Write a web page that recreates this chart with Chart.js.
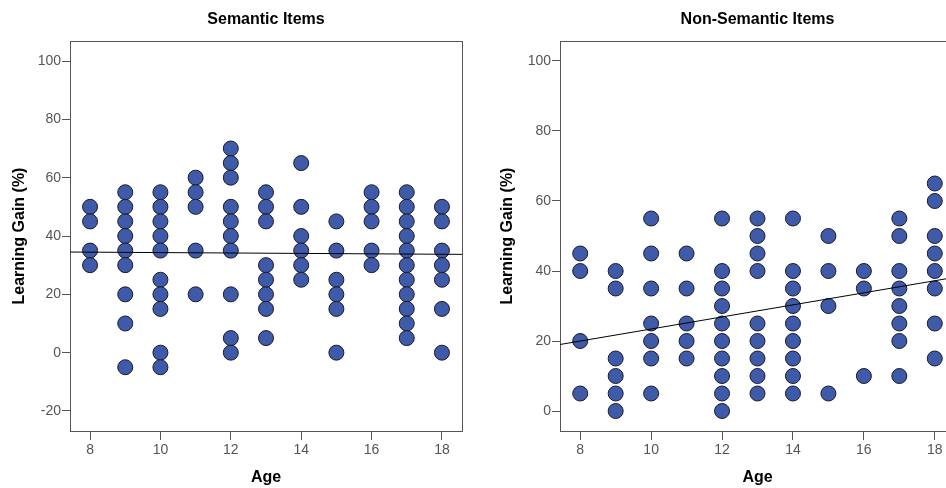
<!DOCTYPE html>
<html><head><meta charset="utf-8">
<script src="https://cdn.jsdelivr.net/npm/chart.js@4.4.1/dist/chart.umd.min.js"></script>
<style>
html,body{margin:0;padding:0;background:#fff;overflow:hidden;width:946px;height:488px;}
#wrap{position:relative;width:946px;height:488px;overflow:hidden;background:#fff;}
.box{position:absolute;top:0;height:488px;}
</style></head><body>
<div id="wrap">
<div class="box" style="left:0;width:475px"><canvas id="c1"></canvas></div>
<div class="box" style="left:475px;width:493px"><canvas id="c2"></canvas></div>
</div>
<script>
const ages = [8, 9, 10, 11, 12, 13, 14, 15, 16, 17, 18];
const semanticGain = [
  [50, 45, 35, 30],
  [55, 50, 45, 40, 35, 30, 20, 10, -5],
  [55, 50, 45, 40, 35, 25, 20, 15, 0, -5],
  [60, 55, 50, 35, 20],
  [70, 65, 60, 50, 45, 40, 35, 20, 5, 0],
  [55, 50, 45, 30, 25, 20, 15, 5],
  [65, 50, 40, 35, 30, 25],
  [45, 35, 25, 20, 15, 0],
  [55, 50, 45, 35, 30],
  [55, 50, 45, 40, 35, 30, 25, 20, 15, 10, 5],
  [50, 45, 35, 30, 25, 15, 0]
];
const nonSemanticGain = [
  [45, 40, 20, 5],
  [40, 35, 15, 10, 5, 0],
  [55, 45, 35, 25, 20, 15, 5],
  [45, 35, 25, 20, 15],
  [55, 40, 35, 30, 25, 20, 15, 10, 5, 0],
  [55, 50, 45, 40, 25, 20, 15, 10, 5],
  [55, 40, 35, 30, 25, 20, 15, 10, 5],
  [50, 40, 30, 5],
  [40, 35, 10],
  [55, 50, 40, 35, 30, 25, 20, 10],
  [65, 60, 50, 45, 40, 35, 25, 15]
];
const xTicks = [8, 10, 12, 14, 16, 18];
const semanticYTicks = [-20, 0, 20, 40, 60, 80, 100];
const nonSemanticYTicks = [0, 20, 40, 60, 80, 100];
const semanticFitAge = [7.43, 18.57];
const semanticFitGain = [34.5, 33.7];
const nonSemanticFitAge = [7.43, 18.57];
const nonSemanticFitGain = [19.0, 38.2];
const titles = ['Semantic Items', 'Non-Semantic Items'];
const xTitle = 'Age';
const yTitle = 'Learning Gain (%)';

const FONT = '"Liberation Sans", Arial, sans-serif';

const framePlugin = {
  id: 'frame',
  beforeDatasetsDraw(chart) {
    const a = chart.chartArea, ctx = chart.ctx;
    ctx.save();
    ctx.strokeStyle = '#555';
    ctx.lineWidth = 1;
    ctx.strokeRect(Math.round(a.left) + 0.5, Math.round(a.top) + 0.5,
      Math.round(a.right - a.left), Math.round(a.bottom - a.top));
    ctx.restore();
  },
  afterDraw(chart, args, opts) {
    const a = chart.chartArea, ctx = chart.ctx;
    ctx.save();
    ctx.font = 'bold 16px ' + FONT;
    ctx.fillStyle = '#000';
    ctx.textAlign = 'center';
    ctx.textBaseline = 'middle';
    ctx.fillText(opts.text, (a.left + a.right) / 2, 20);
    ctx.restore();
  }
};

function makeChart(id, gain, yTicks, yMin, yMax, fitAge, fitGain, title, yAxisWidth, yTitlePad) {
  const pts = [];
  ages.forEach((a, i) => gain[i].forEach(g => pts.push({ x: a, y: g })));
  return new Chart(document.getElementById(id), {
    type: 'scatter',
    data: {
      datasets: [
        {
          type: 'line',
          data: fitAge.map((a, i) => ({ x: a, y: fitGain[i] })),
          borderColor: '#000', borderWidth: 1, pointRadius: 0,
          fill: false, tension: 0, order: 0
        },
        {
          data: pts, pointRadius: 7.5, pointHoverRadius: 7.5,
          backgroundColor: '#3e5aa8', borderColor: '#1a1a2a', borderWidth: 1,
          order: 1
        }
      ]
    },
    options: {
      responsive: true, maintainAspectRatio: false, animation: false, events: [],
      layout: { padding: { top: 41, right: 13, left: 0, bottom: 0 } },
      plugins: { legend: { display: false }, tooltip: { enabled: false }, frame: { text: title } },
      scales: {
        x: {
          type: 'linear', min: 7.43, max: 18.57,
          afterBuildTicks: s => { s.ticks = xTicks.map(v => ({ value: v })); },
          afterFit: s => { s.height = 57; },
          ticks: { color: '#555', font: { family: FONT, size: 14 }, padding: 2 },
          grid: { drawOnChartArea: false, tickLength: 9, color: '#555', tickWidth: 1 },
          border: { color: '#555', width: 1 },
          title: { display: true, text: xTitle, color: '#000', font: { family: FONT, size: 16, weight: 'bold' }, padding: { top: 0, bottom: 1 } }
        },
        y: {
          type: 'linear', min: yMin, max: yMax,
          afterBuildTicks: s => { s.ticks = yTicks.map(v => ({ value: v })); },
          afterFit: s => { s.width = yAxisWidth; },
          ticks: { color: '#555', font: { family: FONT, size: 14 }, padding: 1 },
          grid: { drawOnChartArea: false, tickLength: 8, color: '#555', tickWidth: 1 },
          border: { color: '#555', width: 1 },
          title: { display: true, text: yTitle, color: '#000', font: { family: FONT, size: 16, weight: 'bold' }, padding: { top: yTitlePad, bottom: 0 } }
        }
      }
    },
    plugins: [framePlugin]
  });
}

makeChart('c1', semanticGain, semanticYTicks, -26.86, 106.86, semanticFitAge, semanticFitGain, titles[0], 70, 10);
makeChart('c2', nonSemanticGain, nonSemanticYTicks, -5.71, 105.71, nonSemanticFitAge, nonSemanticFitGain, titles[1], 85, 23);
</script>
</body></html>
